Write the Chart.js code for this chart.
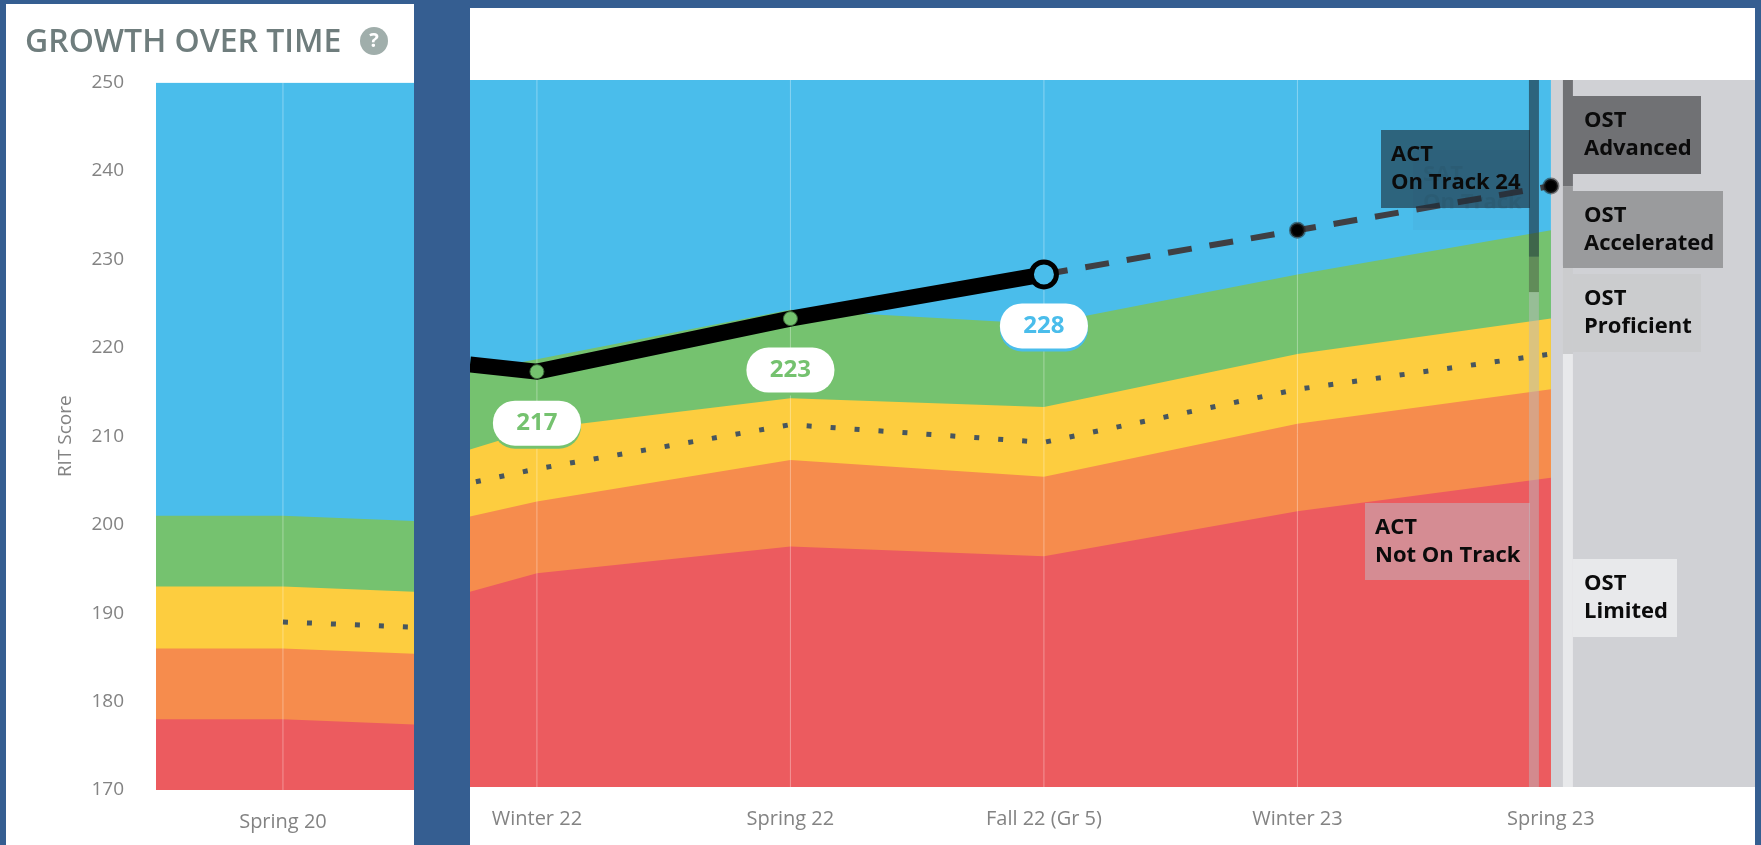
<!DOCTYPE html>
<html>
<head>
  <title>Growth Over Time</title>
  <meta charset="utf-8" />
  <style>
    html, body { margin: 0; height: 100%; background: #355e91; overflow: hidden; }
    canvas { position: absolute; background: #fff; }
    #leftChart { left: 6px; top: 4px; }
    #rightChart { left: 470px; top: 8px; }
  </style>
</head>
<body>
<canvas id="leftChart" width="408" height="841"></canvas>
<canvas id="rightChart" width="1285" height="837"></canvas>

<script src="https://cdn.jsdelivr.net/npm/chart.js"></script>
<script>
  // left panel: x is the period index, the outer entries are the panel edges
  var leftCategories = ['Spring 20'];
  var leftX = [-0.5, 0, 0.516];
  var leftRed = [178, 178, 177.4];
  var leftOrange = [186, 186, 185.4];
  var leftYellow = [193, 193, 192.4];
  var leftGreen = [201, 201, 200.4];
  var leftMedianX = [0, 0.516];
  var leftMedian = [189, 188.4];

  // right panel: first entry is where the panel is cut off
  var rightCategories = ['Winter 22', 'Spring 22', 'Fall 22 (Gr 5)', 'Winter 23', 'Spring 23'];
  var rightX = [-0.264, 0, 1, 2, 3, 4];
  var rightRed = [192.1, 194.2, 197.2, 196.1, 201.2, 205];
  var rightOrange = [200.6, 202.3, 207, 205.1, 211.1, 215];
  var rightYellow = [208.2, 210.5, 214, 213, 219, 223];
  var rightGreen = [217, 218.4, 224, 222.4, 228, 233];
  var rightMedian = [204.4, 206, 211, 209, 215, 219];

  var scoreX = [-0.264, 0, 1, 2];
  var score = [217.8, 217, 223, 228];
  var projectedX = [2, 3, 4];
  var projected = [228, 233, 238];
  var pillValues = [217, 223, 228];

  var yMin = 170, yMax = 250;
  var fontName = '"Open Sans", sans-serif';
  var blue = '#4abdeb', green = '#75c26f', yellow = '#fdcd3f', orange = '#f68c4d', red = '#ec5b5f', gray = '#d0d1d5';

  function series(xs, ys, opts) {
    return Object.assign({
      data: xs.map(function(x, i) { return { x: x, y: ys[i] }; }),
      pointRadius: 0,
      borderWidth: 0,
      fill: false,
      tension: 0
    }, opts);
  }
  function band(xs, ys, color, order) {
    return series(xs, ys, { backgroundColor: color, borderColor: color, fill: 'origin', order: order });
  }
  function vline(x, from, to, color, width, order) {
    return series([x, x], [from, to], { borderColor: color, borderWidth: width, order: order });
  }
  function gridline(x, order) {
    return vline(x, yMin, yMax, 'rgba(255,255,255,0.35)', 1, order);
  }
  function median(xs, ys, offset) {
    return series(xs, ys, { borderColor: '#47565f', borderWidth: 5, borderDash: [5, 19], borderDashOffset: offset, order: 40 });
  }

  function xAxis(min, max, categories, height) {
    return {
      type: 'linear',
      min: min,
      max: max,
      afterBuildTicks: function(s) {
        s.ticks = categories.map(function(c, i) { return { value: i }; });
      },
      afterFit: function(s) { s.height = height; },
      grid: { display: false },
      border: { display: false },
      ticks: {
        autoSkip: false,
        maxRotation: 0,
        padding: 12,
        color: '#838383',
        font: { family: fontName, size: 20 },
        callback: function(v) { return categories[v]; }
      }
    };
  }

  // -------- left panel --------
  var helpIcon = {
    id: 'helpIcon',
    afterDraw: function(chart) {
      var ctx = chart.ctx;
      ctx.save();
      ctx.fillStyle = '#a0aeab';
      ctx.beginPath();
      ctx.arc(368, 37, 14, 0, Math.PI * 2);
      ctx.fill();
      ctx.fillStyle = '#fff';
      ctx.font = '700 20px ' + fontName;
      ctx.textAlign = 'center';
      ctx.textBaseline = 'middle';
      ctx.fillText('?', 368, 37);
      ctx.restore();
    }
  };

  new Chart(document.getElementById('leftChart'), {
    type: 'line',
    plugins: [helpIcon],
    data: {
      datasets: [
        band([-0.5, 0.516], [yMax, yMax], blue, 90),
        band(leftX, leftGreen, green, 80),
        band(leftX, leftYellow, yellow, 70),
        band(leftX, leftOrange, orange, 60),
        band(leftX, leftRed, red, 50),
        gridline(0, 45),
        median(leftMedianX, leftMedian, 0)
      ]
    },
    options: {
      responsive: false,
      animation: false,
      layout: { autoPadding: false, padding: { left: 19 } },
      plugins: {
        legend: { display: false },
        tooltip: { enabled: false },
        title: {
          display: true,
          text: 'GROWTH OVER TIME',
          align: 'start',
          color: '#6f7d7d',
          font: { family: fontName, size: 32, weight: '600' },
          padding: { top: 20, bottom: 20 }
        }
      },
      scales: {
        x: xAxis(-0.5, 0.516, leftCategories, 55),
        y: {
          min: yMin,
          max: yMax,
          afterFit: function(s) { s.width = 131; },
          grid: { display: false },
          border: { display: false },
          ticks: { stepSize: 10, padding: 24, color: '#838383', font: { family: fontName, size: 19 } },
          title: {
            display: true,
            text: 'RIT Score',
            color: '#838383',
            font: { family: fontName, size: 19 },
            padding: { top: 29, bottom: 0 }
          }
        }
      }
    }
  });

  // -------- right panel --------
  // boxes are placed in canvas pixels
  var bandBoxes = [
    { lines: ['SAT', 'On Track'], rect: [943, 142, 117, 80], fill: 'rgba(60,120,170,0.08)', text: 'rgba(30,60,80,0.10)', pad: 10 },
    { lines: ['ACT', 'On Track 24'], rect: [911, 122, 149, 78], fill: 'rgba(26,40,52,0.6)', text: '#0b0b0b', pad: 10 },
    { lines: ['ACT', 'Not On Track'], rect: [895, 495, 165, 77], fill: 'rgba(190,190,200,0.5)', text: '#0b0b0b', pad: 10 },
    { lines: ['OST', 'Advanced'], rect: [1093, 88, 138, 78], fill: '#707174', text: '#0b0b0b', pad: 21 },
    { lines: ['OST', 'Accelerated'], rect: [1093, 183, 160, 77], fill: '#9a9b9d', text: '#0b0b0b', pad: 21 },
    { lines: ['OST', 'Proficient'], rect: [1103, 266, 128, 78], fill: '#cbccce', text: '#0b0b0b', pad: 11 },
    { lines: ['OST', 'Limited'], rect: [1103, 551, 104, 78], fill: '#e8e9eb', text: '#0b0b0b', pad: 11 }
  ];
  var pillColors = [green, green, blue];

  var overlays = {
    id: 'overlays',
    afterDatasetsDraw: function(chart) {
      var ctx = chart.ctx;
      ctx.save();
      ctx.textBaseline = 'middle';
      bandBoxes.forEach(function(b) {
        ctx.fillStyle = b.fill;
        ctx.fillRect(b.rect[0], b.rect[1], b.rect[2], b.rect[3]);
        ctx.fillStyle = b.text;
        ctx.textAlign = 'left';
        ctx.font = '700 22px ' + fontName;
        ctx.fillText(b.lines[0], b.rect[0] + b.pad, b.rect[1] + 25);
        ctx.fillText(b.lines[1], b.rect[0] + b.pad, b.rect[1] + 53);
      });
      // value pills hang under their point
      pillValues.forEach(function(v, i) {
        var px = chart.scales.x.getPixelForValue(i);
        var py = chart.scales.y.getPixelForValue(v) + 52;
        ctx.fillStyle = pillColors[i];
        ctx.beginPath();
        ctx.roundRect(px - 44, py - 22, 88, 47, 22);
        ctx.fill();
        ctx.fillStyle = '#fff';
        ctx.beginPath();
        ctx.roundRect(px - 44, py - 23, 88, 45, 22);
        ctx.fill();
        ctx.fillStyle = pillColors[i];
        ctx.textAlign = 'center';
        ctx.font = '700 24px ' + fontName;
        ctx.fillText(String(v), px, py);
      });
      ctx.restore();
    }
  };

  var actBarX = 3.933, ostBarX = 4.067;

  new Chart(document.getElementById('rightChart'), {
    type: 'line',
    plugins: [overlays],
    data: {
      datasets: [
        // markers on top
        series([2], [228], { pointRadius: 12.5, pointBorderWidth: 5, pointBackgroundColor: blue, pointBorderColor: '#000', order: 1 }),
        series([0, 1], [217, 223], { pointRadius: 7, pointBorderWidth: 1, pointBackgroundColor: green, pointBorderColor: '#3d6a3a', order: 2 }),
        series([3, 4], [233, 238], { pointRadius: 7, pointBorderWidth: 3, pointBackgroundColor: '#000', pointBorderColor: 'rgba(40,40,40,0.55)', order: 3 }),
        series(scoreX, score, { borderColor: '#000', borderWidth: 16, order: 10 }),
        series(projectedX, projected, { borderColor: '#3f3f43', borderWidth: 6, borderDash: [24, 18], order: 11 }),
        median(rightX, rightMedian, 18),
        // ACT scale bar
        vline(actBarX, 230, yMax, 'rgba(26,40,52,0.6)', 10, 20),
        vline(actBarX, 226, 230, 'rgba(60,40,50,0.35)', 10, 20),
        vline(actBarX, yMin, 226, 'rgba(185,185,190,0.5)', 10, 20),
        // OST scale bar
        vline(ostBarX, 238, yMax, '#707174', 10, 21),
        vline(ostBarX, 229, 238, '#9a9b9d', 10, 21),
        vline(ostBarX, 219, 229, '#cbccce', 10, 21),
        vline(ostBarX, yMin, 219, '#e8e9eb', 10, 21),
        gridline(0, 45), gridline(1, 45), gridline(2, 45), gridline(3, 45),
        band([-0.264, 4], [yMax, yMax], blue, 90),
        band(rightX, rightGreen, green, 80),
        band(rightX, rightYellow, yellow, 70),
        band(rightX, rightOrange, orange, 60),
        band(rightX, rightRed, red, 50),
        band([4, 4.805], [yMax, yMax], gray, 95)
      ]
    },
    options: {
      responsive: false,
      animation: false,
      layout: { autoPadding: false, padding: { top: 72 } },
      plugins: { legend: { display: false }, tooltip: { enabled: false } },
      scales: {
        x: xAxis(-0.264, 4.805, rightCategories, 58),
        y: { display: false, min: yMin, max: yMax }
      }
    }
  });
</script>
</body>
</html>
